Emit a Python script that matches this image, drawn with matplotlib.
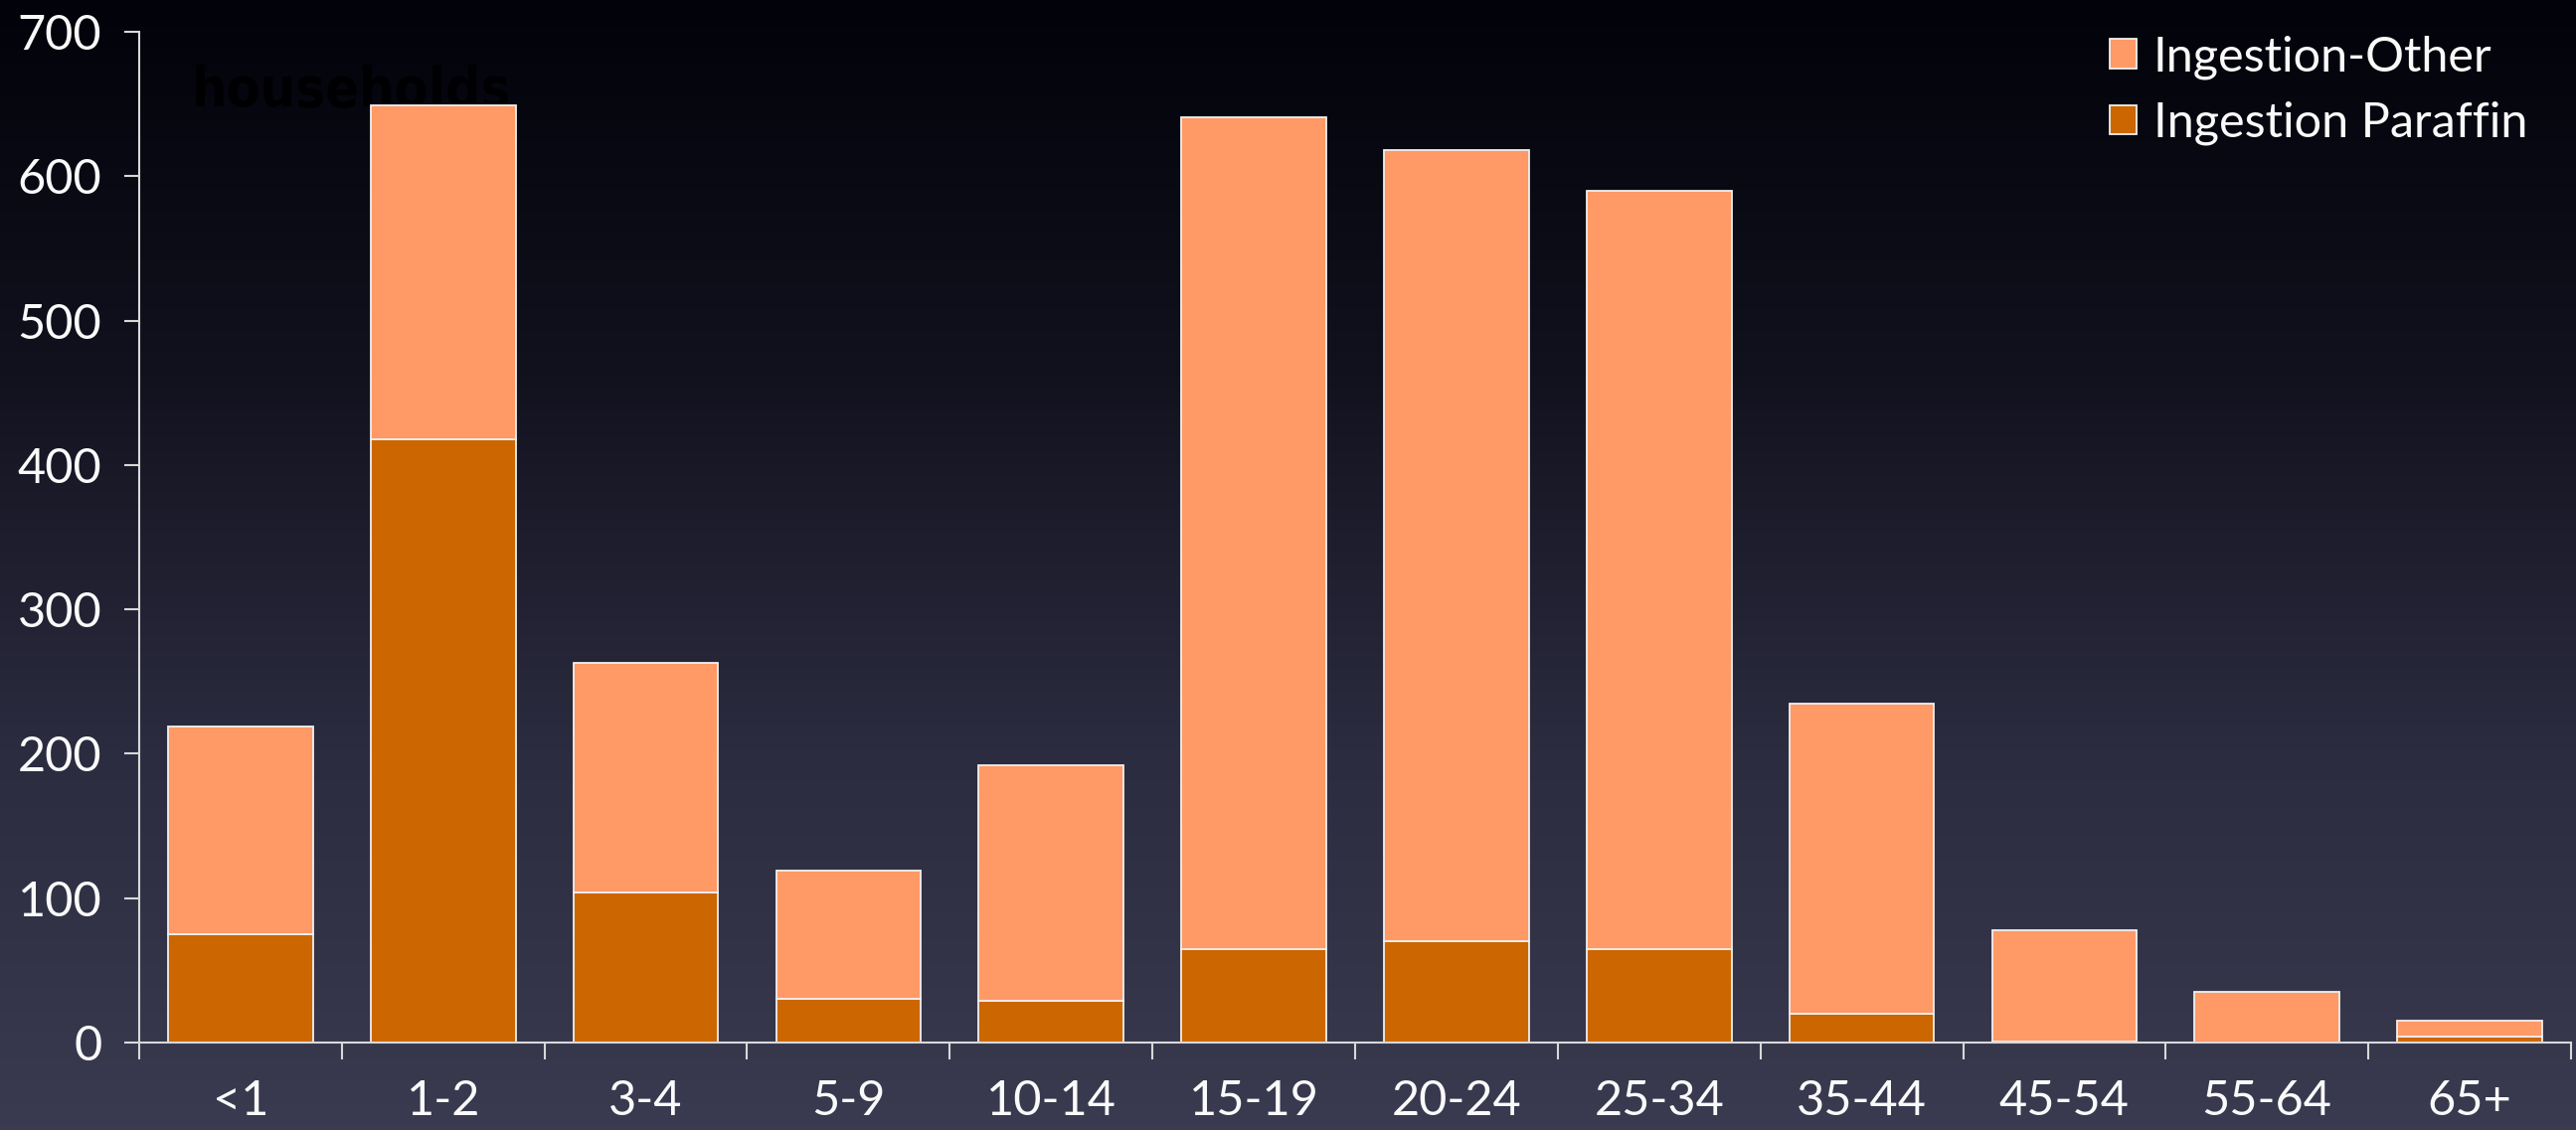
import matplotlib
matplotlib.use('Agg')
import matplotlib.pyplot as plt
import numpy as np
from matplotlib.colors import LinearSegmentedColormap

plt.rcParams['font.family'] = ['Lato', 'DejaVu Sans']

# age groups and counts
AGES = ['<1', '1-2', '3-4', '5-9', '10-14', '15-19', '20-24', '25-34', '35-44', '45-54', '55-64', '65+']
TOTAL = [219, 649, 263, 119, 192, 641, 618, 590, 235, 78, 35, 15]
PARAFFIN = [75, 418, 104, 30, 29, 65, 70, 65, 20, 1, 0, 4]
OTHER = [t - p for t, p in zip(TOTAL, PARAFFIN)]

C_OTHER = '#FF9966'
C_PARAFFIN = '#CC6600'
FG = '#FAFAFA'

fig = plt.figure(figsize=(25.91, 11.37), dpi=100)

# gradient background
bg = fig.add_axes([0, 0, 1, 1], zorder=0)
cmap = LinearSegmentedColormap.from_list('bg', ['#02020a', '#12121f', '#2c2c40', '#3a3a50'])
bg.imshow(np.linspace(0, 1, 256).reshape(-1, 1), aspect='auto', cmap=cmap, extent=[0, 1, 0, 1])
bg.set_xlim(0, 1)
bg.set_ylim(0, 1)
bg.axis('off')
# nearly invisible title remnant, sits behind the bars
bg.text(193 / 2591, 1 - 107 / 1137, 'households', transform=bg.transAxes, fontsize=40,
        fontweight='bold', color='#000003', family='DejaVu Sans', fontstretch='condensed',
        va='baseline')

ax = fig.add_axes([140 / 2591, 1 - 1049 / 1137, (2586 - 140) / 2591, (1049 - 32) / 1137], zorder=1)
ax.patch.set_alpha(0)
x = np.arange(len(AGES))
w = 0.715
ax.bar(x, PARAFFIN, w, color=C_PARAFFIN, edgecolor='#f0f0f0', lw=1.3, label='Ingestion Paraffin')
ax.bar(x, OTHER, w, bottom=PARAFFIN, color=C_OTHER, edgecolor='#f0f0f0', lw=1.3, label='Ingestion-Other')

ax.set_xlim(-0.5, len(AGES) - 0.5)
ax.set_ylim(0, 700)
ax.set_yticks(range(0, 701, 100))
ax.set_xticks(np.arange(-0.5, len(AGES), 1.0))
ax.set_xticklabels([])
ax.set_xticks(x, minor=True)
ax.set_xticklabels(AGES, minor=True)
ax.tick_params(axis='x', which='major', length=12, width=1.5, color='#d8d8d8', direction='out')
ax.tick_params(axis='x', which='minor', length=0, pad=27, labelsize=35, labelcolor=FG)
ax.tick_params(axis='y', length=11, width=1.5, color='#d8d8d8', labelsize=35, labelcolor=FG, pad=16)
for s in ('top', 'right'):
    ax.spines[s].set_visible(False)
for s in ('left', 'bottom'):
    ax.spines[s].set_color('#d8d8d8')
    ax.spines[s].set_linewidth(1.5)

h, l = ax.get_legend_handles_labels()
leg = ax.legend(h[::-1], l[::-1], loc='upper right', bbox_to_anchor=(1.0, 1.04), frameon=False,
                fontsize=35, handlelength=0.55, handleheight=0.55, handletextpad=0.35, labelspacing=0.45)
for t in leg.get_texts():
    t.set_color(FG)

fig.savefig('out.png', dpi=100)
